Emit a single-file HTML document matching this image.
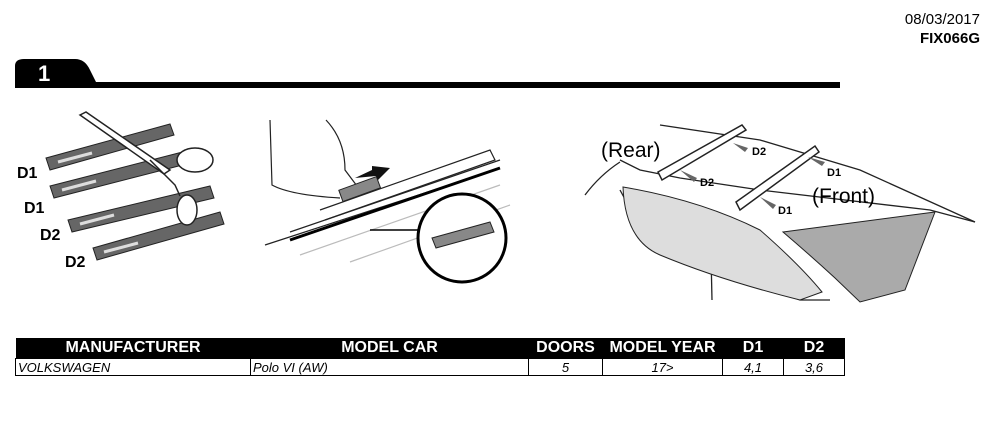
<!DOCTYPE html>
<html><head><style>
body{margin:0;width:1000px;height:436px;background:#fff;position:relative;overflow:hidden;font-family:"Liberation Sans",Arial,sans-serif}
.date{position:absolute;right:20px;top:10px;font-size:15px;text-align:right;line-height:19px}
table{position:absolute;left:15px;top:338px;border-collapse:collapse;width:830px;font-size:14px}
th{background:#000;color:#fff;font-weight:bold;font-size:16px;height:20px;padding:0;font-family:"Liberation Sans Narrow","Liberation Sans",sans-serif}
td{border:1.5px solid #000;height:16px;padding:0 2px;font-style:italic;font-size:13px;line-height:15px}
</style></head><body>
<div class="date">08/03/2017<br><b>FIX066G</b></div>
<svg width="1000" height="436" style="position:absolute;left:0;top:0">
<path d="M15 87 L15 66 Q15 59 24 59 L75 59 Q85 59 90 70 L96 82 L840 82 L840 88 L15 88 Z" fill="#000"/>
<text x="38" y="81" fill="#fff" font-size="22" font-weight="bold" font-family="Liberation Sans">1</text>
<g fill="#666" stroke="#222" stroke-width="1">
<polygon points="46,158 170,124 174,135 50,170"/>
<polygon points="50,186 198,148 202,160 54,198"/>
<polygon points="68,220 210,186 214,198 72,232"/>
<polygon points="93,248 220,212 224,224 97,260"/>
</g>
<g stroke="#ddd" stroke-width="3">
<line x1="58" y1="162" x2="92" y2="153"/><line x1="62" y1="190" x2="96" y2="181"/>
<line x1="80" y1="224" x2="114" y2="215"/><line x1="104" y1="252" x2="138" y2="243"/>
</g>
<g fill="#fff" stroke="#222" stroke-width="1.5">
<path d="M80 115 L86 112 L170 170 L164 174 Z"/>
<ellipse cx="195" cy="160" rx="18" ry="12"/>
<ellipse cx="187" cy="210" rx="10" ry="15"/>
<path d="M150 160 L175 185 L180 196" fill="none"/>
</g>
<g font-weight="bold" font-size="16" fill="#000">
<text x="17" y="178">D1</text><text x="24" y="213">D1</text><text x="40" y="240">D2</text><text x="65" y="267">D2</text></g>
<g fill="none" stroke="#222" stroke-width="1.2">
<path d="M270 120 L272 185 Q290 195 340 198"/><path d="M326 120 Q345 140 345 170 L360 190"/>
<path d="M265 245 L480 175"/><path d="M320 210 L490 150 L495 160 L325 220"/>
<path d="M290 232 L500 160"/>
</g>
<line x1="290" y1="240" x2="500" y2="168" stroke="#000" stroke-width="3"/>
<g fill="none" stroke="#bbb" stroke-width="1.2"><path d="M300 255 L500 185"/><path d="M350 262 L510 205"/></g>
<rect x="340" y="183" width="40" height="12" fill="#888" stroke="#222" transform="rotate(-20 360 190)"/>
<path d="M355 178 L372 170 L372 166 L390 168 L378 180 L376 176 Z" fill="#111"/>
<circle cx="462" cy="238" r="44" fill="#fff" stroke="#000" stroke-width="3"/>
<line x1="370" y1="230" x2="420" y2="230" stroke="#000" stroke-width="1.5"/>
<polygon points="432,238 490,222 494,232 436,248" fill="#888" stroke="#222"/>
<g fill="none" stroke="#222" stroke-width="1.3">
<path d="M585 195 Q600 175 620 162"/><path d="M620 160 L640 170 L680 178 L760 190 L930 210 L975 222"/>
<path d="M660 125 L760 140 L860 170 L975 222"/>
<path d="M620 190 Q640 230 700 260 L780 292 L800 300 L830 300"/>
<path d="M710 210 L712 300"/>
</g>
<path d="M623 187 Q700 200 760 230 Q800 265 822 292 L800 300 Q720 280 660 255 Q625 240 623 187Z" fill="#ddd" stroke="#222"/>
<path d="M783 232 L935 212 L905 290 L860 302 L835 278 Q810 255 783 232Z" fill="#aaa" stroke="#222"/>
<g fill="#fff" stroke="#222" stroke-width="1.5">
<polygon points="658,172 742,125 746,130 662,180"/>
<polygon points="736,202 815,146 819,152 740,210"/>
</g>
<g font-family="Liberation Sans" fill="#000">
<text x="601" y="157" font-size="21">(Rear)</text>
<text x="812" y="203" font-size="21">(Front)</text>
<g font-size="11" font-weight="bold">
<text x="752" y="155">D2</text><text x="700" y="186">D2</text><text x="827" y="176">D1</text><text x="778" y="214">D1</text></g></g>
<g fill="#666"><path d="M733 143 L748 148 L745 152Z"/><path d="M680 170 L697 178 L694 182Z"/><path d="M808 157 L825 162 L822 166Z"/><path d="M760 197 L776 205 L773 209Z"/></g>
</svg>
<table>
<tr><th style="width:235px">MANUFACTURER</th><th style="width:278px">MODEL CAR</th><th style="width:74px">DOORS</th><th style="width:120px">MODEL YEAR</th><th style="width:61px">D1</th><th>D2</th></tr>
<tr><td>VOLKSWAGEN</td><td>Polo VI (AW)</td><td style="text-align:center">5</td><td style="text-align:center">17&gt;</td><td style="text-align:center">4,1</td><td style="text-align:center">3,6</td></tr>
</table>
</body></html>
